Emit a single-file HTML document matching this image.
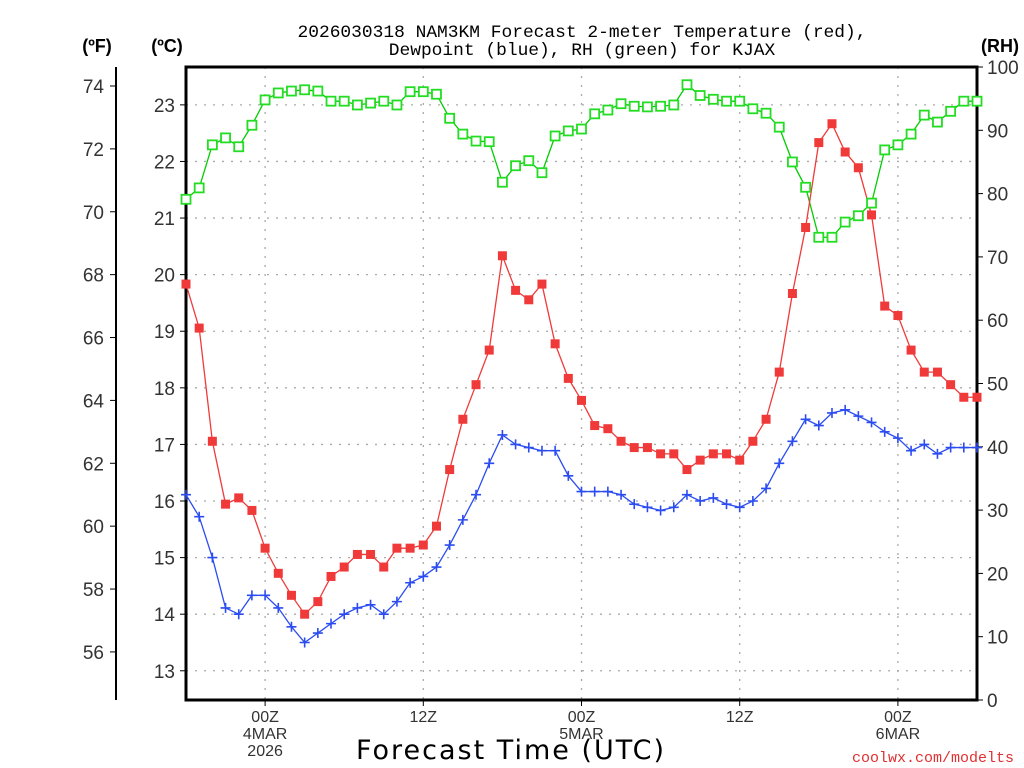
<!DOCTYPE html>
<html><head><meta charset="utf-8"><style>
html,body{margin:0;padding:0;background:#fff;}
svg{display:block;font-family:"Liberation Sans",sans-serif;}
</style></head><body>
<svg id="chart" width="1024" height="768" viewBox="0 0 1024 768" xmlns="http://www.w3.org/2000/svg">
<text x="582" y="37" text-anchor="middle" font-family="Liberation Mono, monospace" font-size="17.9" fill="#000">2026030318 NAM3KM Forecast 2-meter Temperature (red),</text>
<text x="582" y="55" text-anchor="middle" font-family="Liberation Mono, monospace" font-size="17.9" fill="#000">Dewpoint (blue), RH (green) for KJAX</text>
<text x="97" y="52" text-anchor="middle" font-size="18" font-weight="bold">(ºF)</text>
<text x="167" y="52" text-anchor="middle" font-size="18" font-weight="bold">(ºC)</text>
<text x="1000" y="52" text-anchor="middle" font-size="18" font-weight="bold">(RH)</text>
<text x="511" y="759" text-anchor="middle" font-family="DejaVu Sans, sans-serif" font-size="27" letter-spacing="2">Forecast Time (UTC)</text>
<text x="1014" y="762" text-anchor="end" font-family="Liberation Mono, monospace" font-size="15" fill="#e03030">coolwx.com/modelts</text>
<g id="grid"></g>
<g id="axes"></g>
<g id="series"></g>
</svg>
<script>
const hours = [];
for (let h = 0; h <= 60; h++) hours.push(h);
const tempF = [67.7,66.3,62.7,60.7,60.9,60.5,59.3,58.5,57.8,57.2,57.6,58.4,58.7,59.1,59.1,58.7,59.3,59.3,59.4,60.0,61.8,63.4,64.5,65.6,68.6,67.5,67.2,67.7,65.8,64.7,64.0,63.2,63.1,62.7,62.5,62.5,62.3,62.3,61.8,62.1,62.3,62.3,62.1,62.7,63.4,64.9,67.4,69.5,72.2,72.8,71.9,71.4,69.9,67.0,66.7,65.6,64.9,64.9,64.5,64.1,64.1];
const dewF = [61.0,60.3,59.0,57.4,57.2,57.8,57.8,57.4,56.8,56.3,56.6,56.9,57.2,57.4,57.5,57.2,57.6,58.2,58.4,58.7,59.4,60.2,61.0,62.0,62.9,62.6,62.5,62.4,62.4,61.6,61.1,61.1,61.1,61.0,60.7,60.6,60.5,60.6,61.0,60.8,60.9,60.7,60.6,60.8,61.2,62.0,62.7,63.4,63.2,63.6,63.7,63.5,63.3,63.0,62.8,62.4,62.6,62.3,62.5,62.5,62.5];
const rh = [79.1,80.9,87.7,88.8,87.4,90.8,94.8,95.9,96.2,96.4,96.2,94.6,94.6,94.0,94.3,94.6,94.0,96.1,96.1,95.7,91.9,89.4,88.3,88.2,81.8,84.4,85.2,83.3,89.1,89.9,90.2,92.6,93.2,94.2,93.8,93.7,93.8,94.0,97.2,95.5,94.9,94.6,94.6,93.4,92.7,90.5,85.0,81.0,73.1,73.1,75.5,76.5,78.5,86.9,87.7,89.4,92.4,91.3,93.0,94.6,94.6];
const fTicks = [56,58,60,62,64,66,68,70,72,74];
const cTicks = [13,14,15,16,17,18,19,20,21,22,23];
const rhTicks = [0,10,20,30,40,50,60,70,80,90,100];
const xTickHours = [6,18,30,42,54];
const xTickLabels = [["00Z","4MAR","2026"],["12Z"],["00Z","5MAR"],["12Z"],["00Z","6MAR"]];

const L=186,R=977,T=67,B=700;
const xS = h => L + (R-L)*h/60;
const yF = f => 86 + (74-f)*31.44;
const yC = c => yF(c*1.8+32);
const yRH = v => B - (B-T)*v/100;
const NS="http://www.w3.org/2000/svg";
function mk(tag, attrs, parent){const e=document.createElementNS(NS,tag);for(const k in attrs)e.setAttribute(k,attrs[k]);parent.appendChild(e);return e;}
const grid=document.getElementById('grid'), axes=document.getElementById('axes'), series=document.getElementById('series');

cTicks.forEach(c=>{const y=yC(c);
 const g=mk('line',{x1:L,x2:R,y1:y,y2:y,stroke:'#aaa','stroke-width':1.3,'stroke-dasharray':'2,7'},grid);
 
 
 mk('line',{x1:L-6,x2:L,y1:y,y2:y,stroke:'#000','stroke-width':1},axes);
 const t=mk('text',{x:L-11,y:y+7,'text-anchor':'end','font-size':19,fill:'#333'},axes);t.textContent=c;
 
 
});
xTickHours.forEach((h,i)=>{const x=xS(h);
 const g=mk('line',{x1:x,x2:x,y1:T,y2:B,stroke:'#aaa','stroke-width':1.3,'stroke-dasharray':'2,7'},grid);
 
 
 mk('line',{x1:x,x2:x,y1:B,y2:B+6,stroke:'#000','stroke-width':1},axes);
 xTickLabels[i].forEach((s,j)=>{const t=mk('text',{x:x,y:B+22+j*17,'text-anchor':'middle','font-size':16,fill:'#333'},axes);t.textContent=s;
  
  });
});
const fa=mk('line',{x1:116,x2:116,y1:67,y2:700,stroke:'#000','stroke-width':2},axes);


fTicks.forEach(f=>{const y=yF(f);
 mk('line',{x1:110,x2:116,y1:y,y2:y,stroke:'#000','stroke-width':1},axes);
 const t=mk('text',{x:104,y:y+7,'text-anchor':'end','font-size':19,fill:'#333'},axes);t.textContent=f;
 
 
});
rhTicks.forEach(v=>{const y=yRH(v);
 mk('line',{x1:R,x2:R+6,y1:y,y2:y,stroke:'#000','stroke-width':1},axes);
 const t=mk('text',{x:987,y:y+7,'font-size':19,fill:'#333'},axes);t.textContent=v;
 
 
});
const box=mk('rect',{x:L,y:T,width:R-L,height:B-T,fill:'none',stroke:'#000','stroke-width':3},axes);



function line(vals, yfn, color, name){
 const p=mk('polyline',{points:vals.map((v,i)=>xS(hours[i])+','+yfn(v)).join(' '),fill:'none',stroke:color,'stroke-width':1.3},series);
 
 
}
line(rh,yRH,'#00cc00','rh-line');
line(tempF,yF,'#f03a3a','temperature-line');
line(dewF,yF,'#2a4cf0','dewpoint-line');
rh.forEach((v,i)=>{const m=mk('rect',{x:xS(hours[i])-4.5,y:yRH(v)-4.5,width:9,height:9,fill:'#fff',stroke:'#22dd22','stroke-width':1.8},series);
 
 });
tempF.forEach((v,i)=>{const m=mk('rect',{x:xS(hours[i])-4.5,y:yF(v)-4.5,width:9,height:9,fill:'#f03a3a'},series);
 
 });
dewF.forEach((v,i)=>{const x=xS(hours[i]),y=yF(v);
 const m=mk('path',{d:`M${x-5},${y}H${x+5}M${x},${y-5}V${y+5}`,stroke:'#2a4cf0','stroke-width':1.6},series);
 
 });
</script>
</body></html>
